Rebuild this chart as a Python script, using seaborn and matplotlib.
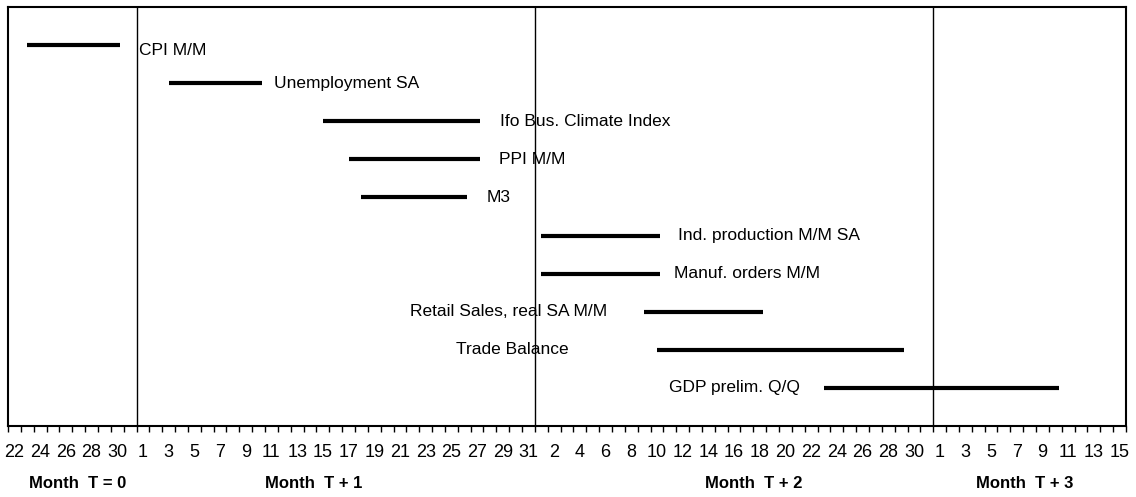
import numpy as np
import pandas as pd
import matplotlib
matplotlib.use("Agg")
import matplotlib.pyplot as plt
import matplotlib.transforms as mtransforms
import seaborn as sns

# calendar shown on the axis: month T = 0 (from the 22nd) up to month T + 3 (to the 15th)
month_names = ["Month  T = 0", "Month  T + 1", "Month  T + 2", "Month  T + 3"]
month_first = [22, 1, 1, 1]
month_last = [31, 31, 31, 15]

# release windows, month offset + day of month
indicators = ["CPI M/M", "Unemployment SA", "Ifo Bus. Climate Index", "PPI M/M", "M3",
              "Ind. production M/M SA", "Manuf. orders M/M", "Retail Sales, real SA M/M",
              "Trade Balance", "GDP prelim. Q/Q"]
start_month = [0, 1, 1, 1, 1, 2, 2, 2, 2, 2]
start_day = [23, 3, 15, 17, 18, 1, 1, 9, 10, 23]
end_month = [0, 1, 1, 1, 1, 2, 2, 2, 2, 3]
end_day = [30, 10, 27, 27, 26, 10, 10, 18, 29, 10]

# layout of the text labels (x in day units)
label_x = [10.2, 20.7, 38.3, 38.2, 37.25, 52.1, 51.8, 46.6, 43.6, 61.65]
label_ha = ["left"] * 7 + ["right"] * 3
label_dy = [0.14, 0, 0, 0, 0, 0, 0, 0, 0, 0]
month_label_x = [5.4, 23.8, 58.0, 79.1]

# day index of every calendar day
offsets = []
days = []
for first, last in zip(month_first, month_last):
    offsets.append(len(days))
    days += list(range(first, last + 1))
n_days = len(days)


def day_index(m, d):
    return offsets[m] + d - month_first[m]


rows = []
for k, name in enumerate(indicators):
    s = day_index(start_month[k], start_day[k])
    e = day_index(end_month[k], end_day[k])
    rows.append({"name": name, "x": s + 0.5, "row": k + 1})
    rows.append({"name": name, "x": e + 0.75, "row": k + 1})
df = pd.DataFrame(rows)

sns.set_style("white")
plt.rcParams["font.family"] = ["Liberation Sans", "DejaVu Sans"]

fig = plt.figure(figsize=(11.36, 4.97), dpi=100)
ax = fig.add_axes([8 / 1136, 1 - 426 / 497, 1118 / 1136, 419 / 497])

sns.lineplot(data=df, x="x", y="row", units="name", estimator=None, sort=False,
             color="black", lw=3, ax=ax, legend=False)
for line in ax.lines:
    line.set_solid_capstyle("butt")

for k, name in enumerate(indicators):
    ax.text(label_x[k], k + 1 + label_dy[k], name, ha=label_ha[k], va="center",
            fontsize=12.5, color="black")

# month boundaries
for m in range(1, len(month_names)):
    ax.axvline(offsets[m], color="black", lw=1)

ax.set_xlim(0, n_days)
ax.set_ylim(len(indicators) + 1, 0)
ax.set_xlabel("")
ax.set_ylabel("")
ax.set_yticks([])

ax.set_xticks(np.arange(0, n_days + 1))
ax.set_xticklabels([])
ax.tick_params(axis="x", which="major", bottom=True, direction="out", length=4.5,
               width=1, color="black")
ax.set_xticks(np.arange(0, n_days, 2) + 0.5, minor=True)
ax.set_xticklabels([str(d) for d in days[::2]], minor=True)
ax.tick_params(axis="x", which="minor", bottom=True, length=0, pad=13, labelsize=13,
               labelcolor="black")

for sp in ax.spines.values():
    sp.set_visible(True)
    sp.set_color("black")
    sp.set_linewidth(1.5)

trans = mtransforms.blended_transform_factory(ax.transData, fig.transFigure)
for m, name in enumerate(month_names):
    ax.text(month_label_x[m], 1 - 483 / 497, name, transform=trans, ha="center",
            va="center", fontsize=12, fontweight="bold", color="black")

fig.savefig("out.png", dpi=100)
